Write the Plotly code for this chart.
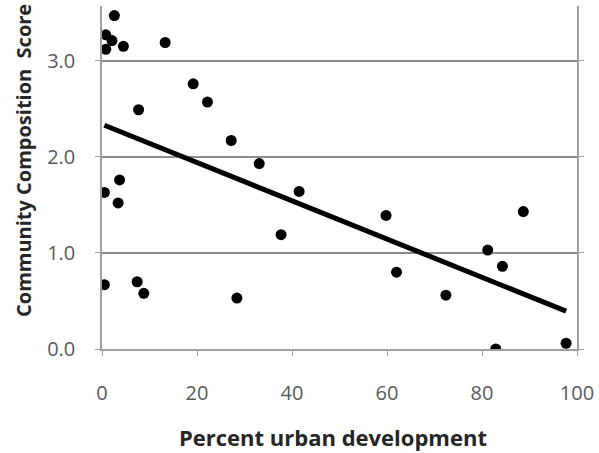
import numpy as np
import plotly.graph_objects as go

urban_pct = [2.6, 0.8, 2.1, 0.8, 4.5, 13.3, 19.2, 22.2, 7.7, 27.2, 33.1, 0.5, 3.7, 41.5,
             3.4, 37.7, 0.5, 7.4, 8.8, 28.4, 59.8, 88.7, 81.2, 84.3, 62.0, 72.4, 82.9, 97.7]
comm_score = [3.47, 3.27, 3.21, 3.12, 3.15, 3.19, 2.76, 2.57, 2.49, 2.17, 1.93, 1.63, 1.76, 1.64,
              1.52, 1.19, 0.67, 0.70, 0.58, 0.53, 1.39, 1.43, 1.03, 0.86, 0.80, 0.56, 0.0, 0.06]

x_ticks = [0, 20, 40, 60, 80, 100]
y_ticks = [0.0, 1.0, 2.0, 3.0]

slope, intercept = np.polyfit(urban_pct, comm_score, 1)
trend_x = np.array([min(urban_pct), max(urban_pct)])
trend_y = intercept + slope * trend_x

fig = go.Figure()
fig.add_trace(go.Scatter(x=trend_x, y=trend_y, mode="lines",
                         line=dict(color="black", width=5), showlegend=False))
fig.add_trace(go.Scatter(x=urban_pct, y=comm_score, mode="markers",
                         marker=dict(color="black", size=11), showlegend=False))

tick_font = dict(family="Open Sans", size=20, color="#595959")
fig.update_layout(
    width=599, height=453,
    margin=dict(l=102, r=22, t=6, b=104),
    paper_bgcolor="white", plot_bgcolor="white",
    xaxis=dict(range=[0, 100], tickvals=x_ticks, ticktext=[str(v) for v in x_ticks],
               showgrid=False, zeroline=False, showline=True, linecolor="#a0a0a0", linewidth=1.5,
               ticks="outside", ticklen=5, tickcolor="#a0a0a0", tickfont=tick_font,
               ticklabelstandoff=20, automargin=False),
    yaxis=dict(range=[0, 3.57], tickvals=y_ticks, ticktext=[f"{v:.1f}" for v in y_ticks],
               showgrid=True, gridcolor="#8c8c8c", gridwidth=1.5, zeroline=False,
               showline=True, linecolor="#a0a0a0", linewidth=1.5, mirror="ticks",
               ticks="outside", ticklen=5, tickcolor="#a0a0a0", tickfont=tick_font,
               ticklabelstandoff=16, automargin=False),
    annotations=[
        dict(text="<b>Percent urban development</b>", xref="paper", yref="paper",
             x=(333 - 102) / 475, y=(349 - 437) / 343, xanchor="center", yanchor="middle",
             showarrow=False, font=dict(family="Open Sans", size=22, color="#262626")),
        dict(text="<b>Community Composition  Score</b>", xref="paper", yref="paper",
             x=(23 - 102) / 475, y=(349 - 161) / 343, xanchor="center", yanchor="middle",
             showarrow=False, textangle=-90,
             font=dict(family="Open Sans", size=20, color="#262626")),
    ],
)
fig.write_html("out.html", config={"displayModeBar": False},
               post_script="document.body.style.margin='0';")
